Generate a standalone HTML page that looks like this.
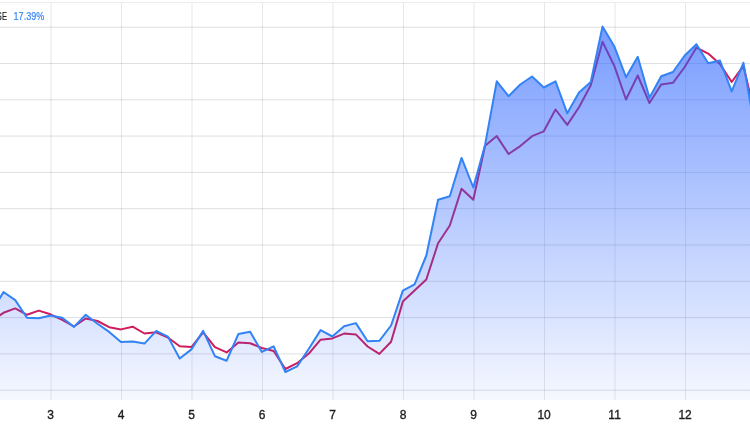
<!DOCTYPE html>
<html><head><meta charset="utf-8"><title>chart</title>
<style>
html,body{margin:0;padding:0;background:#fff;}
body{width:750px;height:430px;overflow:hidden;position:relative;font-family:"Liberation Sans",sans-serif;}
svg{position:absolute;left:0;top:0;display:block;}
.grid .v{stroke:rgba(40,40,60,0.115);stroke-width:1;} .grid .h{stroke:rgba(40,40,60,0.15);stroke-width:1;}
.lbl text{font-family:"Liberation Sans",sans-serif;font-size:12px;fill:#1e1e1e;stroke:#1e1e1e;stroke-width:0.35;text-anchor:middle;}
.leg{font-family:"Liberation Sans",sans-serif;font-size:11px;}
</style></head><body>
<svg width="750" height="430" viewBox="0 0 750 430">
<defs><linearGradient id="g" x1="0" y1="0" x2="0" y2="1" gradientUnits="userSpaceOnUse" gradientTransform="scale(1,400)">
<stop offset="0" stop-color="#2962ff" stop-opacity="0.67"/>
<stop offset="1" stop-color="#2962ff" stop-opacity="0.045"/>
</linearGradient><filter id="b" x="0" y="0" width="750" height="430" filterUnits="userSpaceOnUse"><feGaussianBlur stdDeviation="0.4"/></filter></defs>
<g filter="url(#b)">
<rect x="0" y="0" width="750" height="430" fill="#fff"/>
<rect x="0" y="2" width="750" height="1" fill="#ececec"/>
<g class="grid"><line x1="51.0" y1="3" x2="51.0" y2="400" class="v"/><line x1="121.5" y1="3" x2="121.5" y2="400" class="v"/><line x1="192.0" y1="3" x2="192.0" y2="400" class="v"/><line x1="262.5" y1="3" x2="262.5" y2="400" class="v"/><line x1="333.0" y1="3" x2="333.0" y2="400" class="v"/><line x1="403.5" y1="3" x2="403.5" y2="400" class="v"/><line x1="474.0" y1="3" x2="474.0" y2="400" class="v"/><line x1="544.5" y1="3" x2="544.5" y2="400" class="v"/><line x1="615.0" y1="3" x2="615.0" y2="400" class="v"/><line x1="685.5" y1="3" x2="685.5" y2="400" class="v"/><line x1="0" y1="27.2" x2="750" y2="27.2" class="h"/><line x1="0" y1="63.5" x2="750" y2="63.5" class="h"/><line x1="0" y1="99.8" x2="750" y2="99.8" class="h"/><line x1="0" y1="136.1" x2="750" y2="136.1" class="h"/><line x1="0" y1="172.4" x2="750" y2="172.4" class="h"/><line x1="0" y1="208.7" x2="750" y2="208.7" class="h"/><line x1="0" y1="245.0" x2="750" y2="245.0" class="h"/><line x1="0" y1="281.3" x2="750" y2="281.3" class="h"/><line x1="0" y1="317.6" x2="750" y2="317.6" class="h"/><line x1="0" y1="353.9" x2="750" y2="353.9" class="h"/><line x1="0" y1="390.2" x2="750" y2="390.2" class="h"/></g>
<polyline points="-8.24,320.7 3.50,312.8 15.24,308.4 26.99,314.8 38.73,310.6 50.48,314.3 62.22,319.8 73.97,326.5 85.71,318.5 97.46,321.0 109.20,327.2 120.95,329.4 132.69,326.7 144.44,333.5 156.19,332.3 167.93,337.5 179.67,346.2 191.42,347.1 203.16,332.3 214.91,347.1 226.65,352.4 238.40,342.4 250.14,343.2 261.89,348.0 273.63,351.0 285.38,369.0 297.12,363.2 308.87,353.6 320.61,339.7 332.36,338.4 344.10,333.6 355.85,334.4 367.59,346.5 379.34,353.9 391.08,341.7 402.83,301.6 414.57,290.5 426.32,279.5 438.06,243.3 449.81,225.5 461.55,188.7 473.30,199.7 485.04,145.8 496.79,136.1 508.53,154.0 520.28,146.1 532.02,136.2 543.77,131.3 555.51,109.5 567.26,124.9 579.00,107.3 590.75,85.2 602.50,41.8 614.24,65.7 625.99,99.5 637.73,75.5 649.47,103.0 661.22,84.5 672.96,82.8 684.71,67.0 696.45,47.6 708.20,53.6 719.94,64.0 731.69,82.0 743.43,65.8 755.18,116.0" fill="none" stroke="#cf1b5c" stroke-width="2" stroke-linejoin="round"/>
<polygon points="-8.24,400 -8.24,311.7 3.50,292.0 15.24,300.1 26.99,317.7 38.73,318.2 50.48,315.6 62.22,317.8 73.97,326.9 85.71,314.8 97.46,323.8 109.20,331.9 120.95,342.0 132.69,341.5 144.44,343.6 156.19,330.9 167.93,336.6 179.67,358.5 191.42,349.4 203.16,330.9 214.91,356.2 226.65,360.7 238.40,334.0 250.14,331.8 261.89,351.9 273.63,346.3 285.38,372.0 297.12,366.4 308.87,348.7 320.61,330.1 332.36,336.5 344.10,326.2 355.85,323.1 367.59,341.3 379.34,340.8 391.08,325.5 402.83,290.6 414.57,284.3 426.32,255.5 438.06,199.7 449.81,196.2 461.55,157.9 473.30,187.5 485.04,144.9 496.79,81.3 508.53,96.2 520.28,84.5 532.02,76.5 543.77,87.5 555.51,81.3 567.26,113.3 579.00,92.6 590.75,82.0 602.50,26.6 614.24,46.2 625.99,77.2 637.73,56.8 649.47,97.8 661.22,76.2 672.96,72.0 684.71,55.5 696.45,44.3 708.20,63.2 719.94,60.5 731.69,91.4 743.43,62.8 755.18,131.0 755.18,400" fill="url(#g)"/>
<polyline points="-8.24,311.7 3.50,292.0 15.24,300.1 26.99,317.7 38.73,318.2 50.48,315.6 62.22,317.8 73.97,326.9 85.71,314.8 97.46,323.8 109.20,331.9 120.95,342.0 132.69,341.5 144.44,343.6 156.19,330.9 167.93,336.6 179.67,358.5 191.42,349.4 203.16,330.9 214.91,356.2 226.65,360.7 238.40,334.0 250.14,331.8 261.89,351.9 273.63,346.3 285.38,372.0 297.12,366.4 308.87,348.7 320.61,330.1 332.36,336.5 344.10,326.2 355.85,323.1 367.59,341.3 379.34,340.8 391.08,325.5 402.83,290.6 414.57,284.3 426.32,255.5 438.06,199.7 449.81,196.2 461.55,157.9 473.30,187.5 485.04,144.9 496.79,81.3 508.53,96.2 520.28,84.5 532.02,76.5 543.77,87.5 555.51,81.3 567.26,113.3 579.00,92.6 590.75,82.0 602.50,26.6 614.24,46.2 625.99,77.2 637.73,56.8 649.47,97.8 661.22,76.2 672.96,72.0 684.71,55.5 696.45,44.3 708.20,63.2 719.94,60.5 731.69,91.4 743.43,62.8 755.18,131.0" fill="none" stroke="#3383f5" stroke-width="2" stroke-linejoin="round"/>
<rect x="0" y="400.2" width="750" height="30" fill="#fff"/>
<g class="lbl"><text x="50.6" y="419.1">3</text><text x="121.1" y="419.1">4</text><text x="191.6" y="419.1">5</text><text x="262.1" y="419.1">6</text><text x="332.6" y="419.1">7</text><text x="403.1" y="419.1">8</text><text x="473.6" y="419.1">9</text><text x="544.1" y="419.1">10</text><text x="614.6" y="419.1">11</text><text x="685.1" y="419.1">12</text></g>
<text class="leg" x="6.9" y="19.8" fill="#222" stroke="#222" stroke-width="0.2" text-anchor="end" textLength="20.5" lengthAdjust="spacingAndGlyphs">NYSE</text>
<text class="leg" x="13.6" y="19.8" fill="#3585f5" stroke="#3585f5" stroke-width="0.2" textLength="30.6" lengthAdjust="spacingAndGlyphs">17.39%</text>
</g>
</svg>
</body></html>
